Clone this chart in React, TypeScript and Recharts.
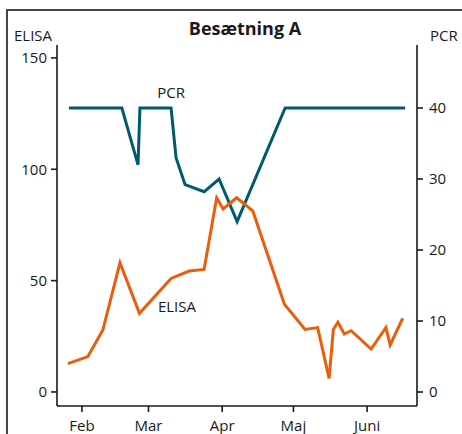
import { LineChart, Line, XAxis, YAxis, ReferenceDot } from "recharts";

// day-of-year for each sample
const pcrDays = [26.5, 48.8, 55.6, 56.4, 69.5, 71.6, 75.4, 83.4, 89.7, 97.3, 117.5, 168];
const pcrValues = [40, 40, 32, 40, 40, 33, 29.2, 28.2, 30, 24, 40, 40];

const elisaDays = [
  26.1, 34.5, 40.8, 48, 56.2, 69.5, 77.1, 83.4, 88.7, 91.4, 97.1, 103.9, 117.2, 125.9,
  131.2, 136, 137.8, 139.7, 142.4, 145.3, 153.7, 159.9, 161.7, 167,
];
const elisaValues = [
  12.7, 15.9, 27.8, 58, 35.3, 51, 54.3, 55, 87.2, 82.2, 87.2, 81.3, 39.4, 28.1,
  28.9, 6.1, 28.1, 31.3, 26, 27.5, 19.3, 28.9, 21.1, 33.1,
];

const monthTicks = [32, 60, 91, 121, 152];
const monthLabels = ["Feb", "Mar", "Apr", "Maj", "Juni"];
const elisaTicks = [0, 50, 100, 150];
const pcrTicks = [0, 10, 20, 30, 40];

const pcrData = pcrDays.map((d, i) => ({ day: d, pcr: pcrValues[i] }));
const elisaData = elisaDays.map((d, i) => ({ day: d, elisa: elisaValues[i] }));

const FONT = "'Open Sans', 'DejaVu Sans', sans-serif";
const INK = "#1a1a1a";
const TEAL = "#005a6e";
const ORANGE = "#e95e0c";

const tickStyle = { fontSize: 15, fill: INK, fontFamily: FONT };

export default function App() {
  return (
    <div
      style={{
        position: "absolute",
        left: 0,
        top: 0,
        width: 462,
        height: 434,
        overflow: "hidden",
        background: "#fff",
        fontFamily: FONT,
        color: INK,
      }}
    >
      <div
        style={{
          position: "absolute",
          left: 6,
          top: 9,
          width: 480,
          height: 460,
          border: "2px solid #444",
        }}
      />
      <div
        style={{
          position: "absolute",
          left: 0,
          width: 462,
          top: 16,
          textAlign: "center",
          fontSize: 18,
          fontWeight: 700,
          paddingLeft: 28,
          boxSizing: "border-box",
        }}
      >
        Besætning A
      </div>
      <div style={{ position: "absolute", left: 14, top: 25, fontSize: 15 }}>ELISA</div>
      <div style={{ position: "absolute", left: 430, top: 25, fontSize: 15 }}>PCR</div>
      <LineChart
        width={462}
        height={434}
        margin={{ top: 45, right: 0, left: 0, bottom: 0 }}
        style={{ position: "absolute", left: 0, top: 0 }}
      >
        <XAxis
          xAxisId="top"
          orientation="top"
          type="number"
          dataKey="day"
          domain={[21.5, 173]}
          allowDataOverflow
          tick={false}
          tickLine={false}
          height={0}
          axisLine={{ stroke: INK, strokeWidth: 1.6 }}
        />
        <XAxis
          type="number"
          dataKey="day"
          domain={[21.5, 173]}
          allowDataOverflow
          ticks={monthTicks}
          tickFormatter={(v: number) => monthLabels[monthTicks.indexOf(v)]}
          tick={tickStyle}
          tickSize={6}
          tickMargin={8}
          height={28}
          axisLine={{ stroke: INK, strokeWidth: 1.6 }}
          tickLine={{ stroke: INK, strokeWidth: 1.6 }}
        />
        <YAxis
          yAxisId="elisa"
          orientation="left"
          domain={[-6.3, 155.8]}
          allowDataOverflow
          ticks={elisaTicks}
          width={57}
          tick={tickStyle}
          tickSize={6}
          tickMargin={4}
          axisLine={{ stroke: INK, strokeWidth: 1.6 }}
          tickLine={{ stroke: INK, strokeWidth: 1.6 }}
        />
        <YAxis
          yAxisId="pcr"
          orientation="right"
          domain={[-1.97, 48.87]}
          allowDataOverflow
          ticks={pcrTicks}
          width={45}
          tick={tickStyle}
          tickSize={6}
          tickMargin={6}
          axisLine={{ stroke: INK, strokeWidth: 1.6 }}
          tickLine={{ stroke: INK, strokeWidth: 1.6 }}
        />
        <Line
          data={pcrData}
          yAxisId="pcr"
          dataKey="pcr"
          type="linear"
          stroke={TEAL}
          strokeWidth={3}
          dot={false}
          isAnimationActive={false}
        />
        <Line
          data={elisaData}
          yAxisId="elisa"
          dataKey="elisa"
          type="linear"
          stroke={ORANGE}
          strokeWidth={3}
          dot={false}
          isAnimationActive={false}
        />
        <ReferenceDot
          yAxisId="pcr"
          x={69.5}
          y={42.1}
          r={0}
          stroke="none"
          fill="none"
          label={{ value: "PCR", position: "center", fontSize: 15, fill: INK, fontFamily: FONT }}
        />
        <ReferenceDot
          yAxisId="elisa"
          x={72}
          y={38.2}
          r={0}
          stroke="none"
          fill="none"
          label={{ value: "ELISA", position: "center", fontSize: 15, fill: INK, fontFamily: FONT }}
        />
      </LineChart>
    </div>
  );
}
